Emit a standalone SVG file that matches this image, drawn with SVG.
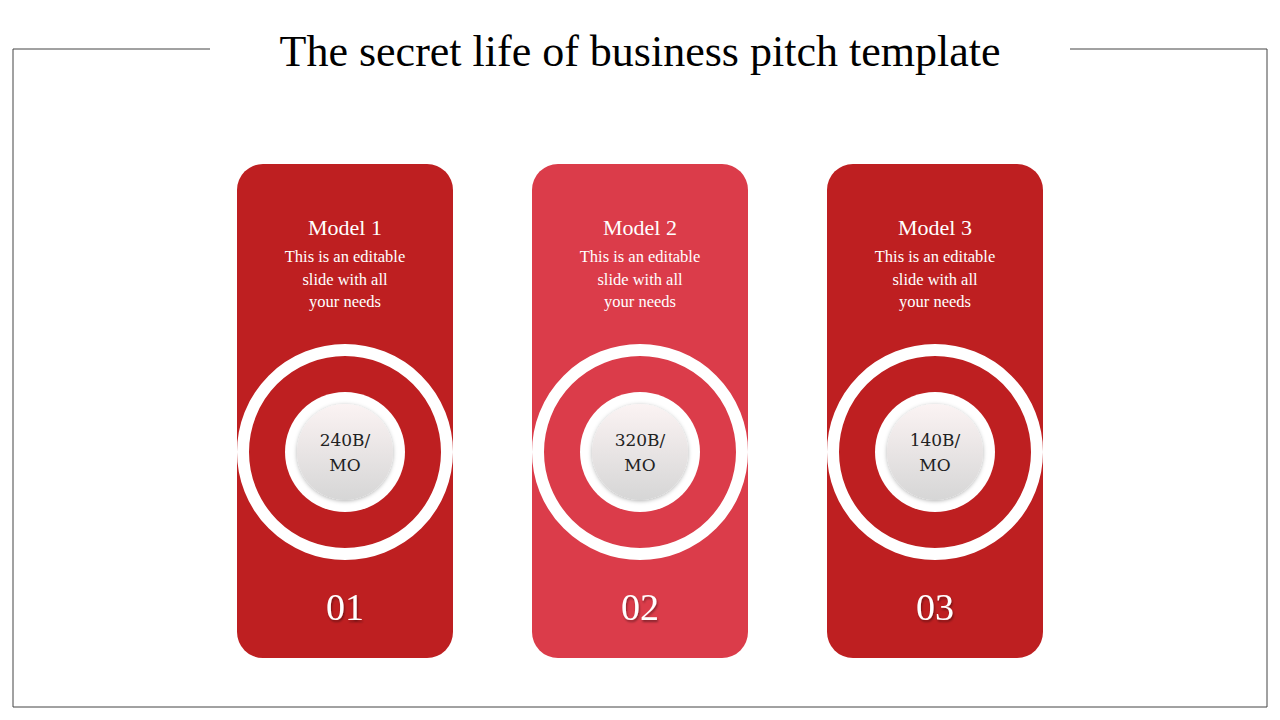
<svg xmlns="http://www.w3.org/2000/svg" width="1280" height="720" viewBox="0 0 1280 720">
<style>
text{font-family:"DejaVu Serif","Liberation Serif",serif;text-anchor:middle}
.t{fill:#fff;font-size:22px;font-family:"Liberation Serif",serif}
.d{fill:#fff;font-size:16.5px;font-family:"Liberation Serif",serif}
.n{fill:#fff;font-size:38px;font-family:"Liberation Serif",serif}
.v{fill:#222;font-size:17px}
.ring{fill:none;stroke:#fff;stroke-width:12}
</style>
<defs>
<linearGradient id="g" x1="0" y1="0" x2="0" y2="1"><stop offset="0" stop-color="#fbf3f3"/><stop offset="1" stop-color="#d6d6d6"/></linearGradient>
<filter id="s" x="-20%" y="-20%" width="140%" height="140%"><feDropShadow dx="0" dy="1" stdDeviation="2" flood-color="#000" flood-opacity="0.3"/></filter>
<filter id="ts"><feDropShadow dx="1" dy="2" stdDeviation="1" flood-color="#000" flood-opacity="0.4"/></filter>
</defs>
<rect width="1280" height="720" fill="#fff"/>
<path d="M210 49H13V707H1267V49H1070" fill="none" stroke="#444" stroke-width="1"/>
<text x="640" y="66" style="font-family:'Liberation Serif',serif;font-size:44px;fill:#000">The secret life of business pitch template</text>
<g id="card1">
<rect x="237" y="164" width="216" height="494" rx="26" fill="#BE1F21"/>
<text class="t" x="345" y="235">Model 1</text>
<text class="d" x="345" y="262">This is an editable</text><text class="d" x="345" y="285">slide with all</text><text class="d" x="345" y="307">your needs</text>
<circle class="ring" cx="345" cy="452" r="102"/><circle cx="345" cy="452" r="60" fill="#fff"/>
<circle cx="345" cy="452" r="48" fill="url(#g)" filter="url(#s)"/>
<text class="v" x="345" y="446">240B/</text><text class="v" x="345" y="471">MO</text>
<text class="n" x="345" y="620" filter="url(#ts)">01</text>
</g>
<g id="card2">
<rect x="532" y="164" width="216" height="494" rx="26" fill="#DB3C4A"/>
<text class="t" x="640" y="235">Model 2</text>
<text class="d" x="640" y="262">This is an editable</text><text class="d" x="640" y="285">slide with all</text><text class="d" x="640" y="307">your needs</text>
<circle class="ring" cx="640" cy="452" r="102"/><circle cx="640" cy="452" r="60" fill="#fff"/>
<circle cx="640" cy="452" r="48" fill="url(#g)" filter="url(#s)"/>
<text class="v" x="640" y="446">320B/</text><text class="v" x="640" y="471">MO</text>
<text class="n" x="640" y="620" filter="url(#ts)">02</text>
</g>
<g id="card3">
<rect x="827" y="164" width="216" height="494" rx="26" fill="#BE1F21"/>
<text class="t" x="935" y="235">Model 3</text>
<text class="d" x="935" y="262">This is an editable</text><text class="d" x="935" y="285">slide with all</text><text class="d" x="935" y="307">your needs</text>
<circle class="ring" cx="935" cy="452" r="102"/><circle cx="935" cy="452" r="60" fill="#fff"/>
<circle cx="935" cy="452" r="48" fill="url(#g)" filter="url(#s)"/>
<text class="v" x="935" y="446">140B/</text><text class="v" x="935" y="471">MO</text>
<text class="n" x="935" y="620" filter="url(#ts)">03</text>
</g>
<g id="connectors"/>
</svg>
